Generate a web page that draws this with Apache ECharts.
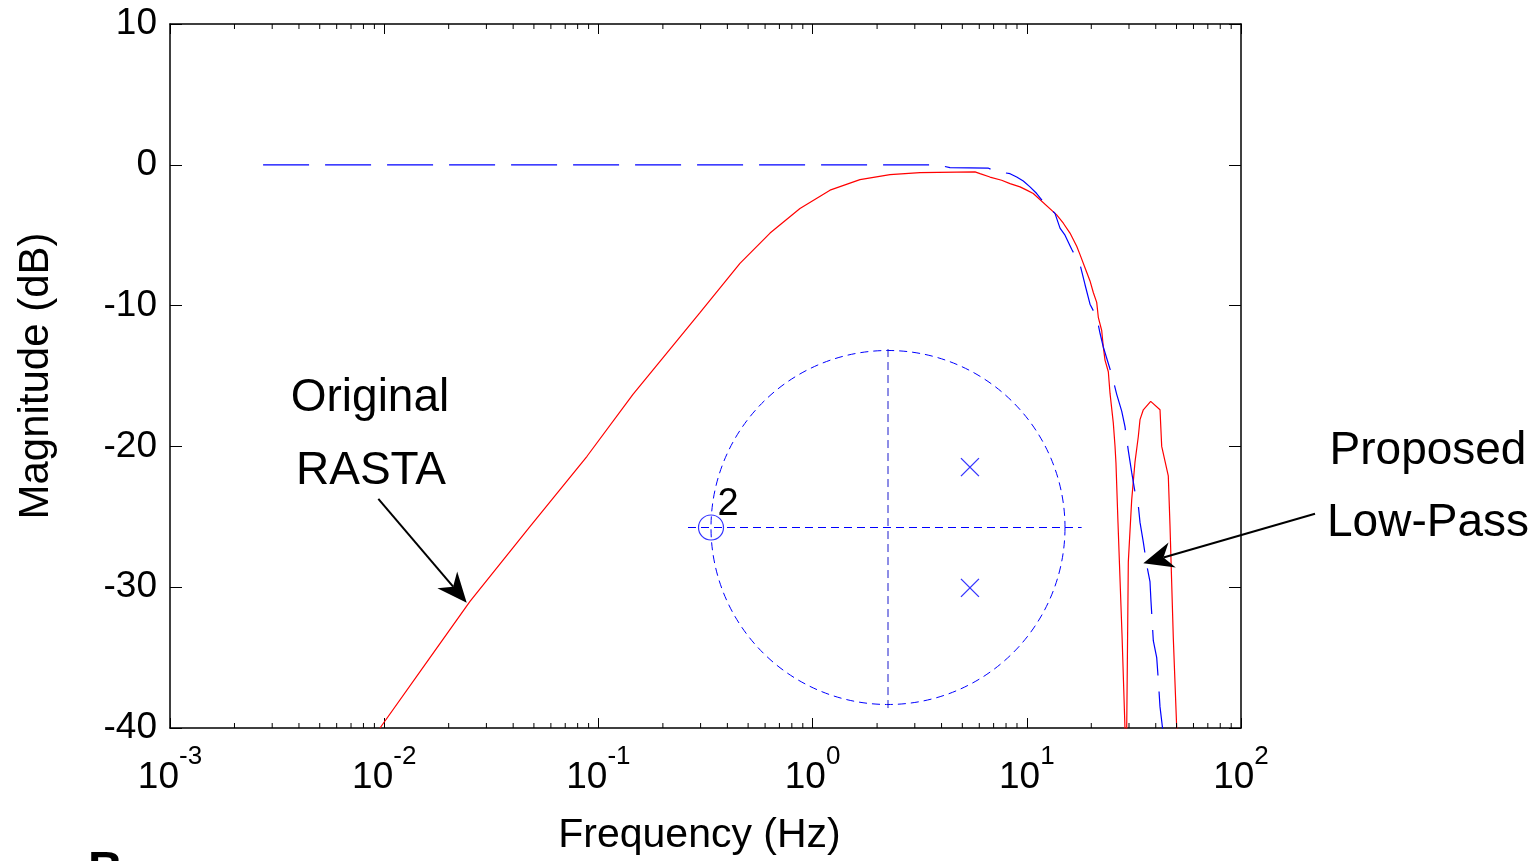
<!DOCTYPE html>
<html>
<head>
<meta charset="utf-8">
<script src="https://cdn.jsdelivr.net/npm/echarts@6/dist/echarts.min.js"></script>
<style>
html,body{margin:0;padding:0;background:#fff;overflow:hidden;}
#chart{width:1539px;height:861px;}
</style>
</head>
<body>
<div id="chart"></div>
<script>
// ---- axis ranges / tick labels ----
const xMin = 0.001, xMax = 100;
const yMin = -40, yMax = 10, yStep = 10;
const xDecadeExponents = [-3, -2, -1, 0, 1, 2];
const minorMultipliers = [2, 3, 4, 5, 6, 7, 8, 9];

// ---- curves: [frequency Hz, magnitude dB] ----
const originalRasta = [
  [0.00956,-40],[0.01636,-35.0],[0.02515,-31.0],[0.0479,-25.7],[0.0885,-20.7],
  [0.145,-16.3],[0.298,-10.5],[0.458,-7.0],[0.633,-4.85],[0.873,-3.1],
  [1.206,-1.8],[1.664,-1.05],[2.298,-0.7],[3.172,-0.55],[5.73,-0.5],
  [6.046,-0.63],[6.73,-0.87],[7.63,-1.10],[8.35,-1.34],[9.30,-1.57],
  [9.99,-1.80],[10.72,-2.04],[13.79,-3.56],[14.81,-4.15],[15.91,-4.85],
  [17.10,-5.79],[17.72,-6.38],[18.69,-7.31],[19.73,-8.25],[20.44,-9.07],
  [21.20,-9.77],[21.57,-10.83],[22.37,-11.77],[22.76,-12.94],[23.18,-13.87],
  [24.02,-14.70],[24.46,-16.22],[25.34,-18.33],[25.81,-19.97],[26.08,-21.2],
  [26.65,-25.4],[27.82,-33.3],[28.73,-40],[29.0,-60],[29.27,-40],
  [29.78,-28.2],[30.88,-23.8],[32.0,-21.1],[33.16,-19.3],[33.77,-18.1],
  [34.99,-17.4],[37.88,-16.8],[41.87,-17.4],[42.64,-20.0],[45.77,-22.1],
  [46.61,-25.6],[48.30,-33.6],[50.10,-40],[51,-60]
];
const proposedLowPass = [
  [0.00272,0],[3.81,0],[4.38,-0.2],[6.59,-0.23],[7.10,-0.45],[8.35,-0.63],
  [8.97,-0.87],[9.63,-1.15],[10.35,-1.57],[11.12,-2.04],[11.94,-2.62],
  [13.54,-3.45],[14.29,-4.5],[15.08,-5.0],[16.20,-6.0],[17.72,-7.08],
  [18.69,-8.5],[19.73,-9.9],[21.20,-10.83],[22.0,-12.0],[22.76,-12.94],
  [23.63,-13.76],[24.91,-14.9],[26.29,-16.3],[27.74,-17.5],[28.73,-18.6],
  [29.78,-20.3],[30.88,-21.85],[32.0,-23.25],[33.16,-24.2],[33.77,-25.4],
  [34.99,-26.8],[36.28,-28.4],[37.59,-29.6],[38.0,-31.0],[38.96,-33.8],
  [40.41,-35.0],[41.11,-36.6],[41.87,-38.5],[43.10,-40.1],[45,-45]
];

// ---- pole-zero inset (z-plane, unit circle) ----
const pzUnitCircle = [[0, 0, 1]];
const pzRealAxis = [[-1.13, 0], [1.094, 0]];
const pzImagAxis = [[0, -1.02], [0, 1.02]];
const pzZeros = [[-1, 0]];
const pzZeroMultiplicity = '2';
const pzPoles = [[0.463, 0.341], [0.463, -0.341]];

// ---- annotation arrows: [fromF, fromDb, toF, toDb] ----
const annotationArrows = [
  [0.00939, -23.72, 0.02428, -31.1],
  [221.6, -24.78, 34.99, -28.3]
];

const minorTicks = [];
xDecadeExponents.slice(0, -1).forEach(e => minorMultipliers.forEach(m => minorTicks.push([m * Math.pow(10, e), yMin])));

const FONT = 'Liberation Sans, Arial, Helvetica, sans-serif';
const BLUE = '#0000ff', RED = '#ff0000';

const chart = echarts.init(document.getElementById('chart'));

const axisLineStyle = { show: true, onZero: false, lineStyle: { color: '#000', width: 1.5 } };

const option = {
  animation: false,
  backgroundColor: '#fff',
  grid: [
    { left: 170, top: 24, width: 1071, height: 711, containLabel: false },
    { left: 675.6, top: 315.1, width: 424.8, height: 424.8, containLabel: false }
  ],
  xAxis: [
    {
      type: 'log', logBase: 10, min: xMin, max: xMax, gridIndex: 0, position: 'bottom',
      axisLine: axisLineStyle,
      axisTick: { show: true, inside: true, length: 10, lineStyle: { color: '#000', width: 1 } },
      splitLine: { show: false },
      axisLabel: {
        show: true, margin: 16, showMinLabel: true, showMaxLabel: true,
        formatter: v => '{b|10}{s|' + Math.round(Math.log10(v)) + '}',
        rich: {
          b: { fontSize: 37, lineHeight: 68, fontFamily: FONT, color: '#000' },
          s: { fontSize: 26, lineHeight: 26, verticalAlign: 'top', fontFamily: FONT, color: '#000' }
        }
      },
      name: 'Frequency (Hz)', nameLocation: 'middle', nameGap: 87,
      nameTextStyle: { fontSize: 41, fontFamily: FONT, color: '#000', padding: [0, 12, 0, 0] }
    },
    {
      type: 'log', logBase: 10, min: xMin, max: xMax, gridIndex: 0, position: 'top',
      axisLine: axisLineStyle,
      axisTick: { show: true, inside: true, length: 10, lineStyle: { color: '#000', width: 1 } },
      splitLine: { show: false }, axisLabel: { show: false }
    },
    { type: 'value', gridIndex: 1, min: -1.2, max: 1.2, show: false }
  ],
  yAxis: [
    {
      type: 'value', min: yMin, max: yMax, interval: yStep, gridIndex: 0, position: 'left',
      axisLine: axisLineStyle,
      axisTick: { show: true, inside: true, length: 12, lineStyle: { color: '#000', width: 1 } },
      splitLine: { show: false },
      axisLabel: { show: true, margin: 13, fontSize: 37, fontFamily: FONT, color: '#000' },
      name: 'Magnitude (dB)', nameLocation: 'middle', nameGap: 113, nameRotate: 90,
      nameTextStyle: { fontSize: 42, fontFamily: FONT, color: '#000' }
    },
    {
      type: 'value', min: yMin, max: yMax, interval: yStep, gridIndex: 0, position: 'right',
      axisLine: axisLineStyle,
      axisTick: { show: true, inside: true, length: 12, lineStyle: { color: '#000', width: 1 } },
      splitLine: { show: false }, axisLabel: { show: false }
    },
    { type: 'value', gridIndex: 1, min: -1.2, max: 1.2, show: false }
  ],
  series: [
    {
      name: 'Original RASTA', type: 'line', xAxisIndex: 0, yAxisIndex: 0,
      data: originalRasta, showSymbol: false, clip: true, z: 3,
      lineStyle: { color: RED, width: 1.2 }
    },
    {
      name: 'Proposed Low-Pass', type: 'line', xAxisIndex: 0, yAxisIndex: 0,
      data: proposedLowPass, showSymbol: false, clip: true, z: 4,
      lineStyle: { color: BLUE, width: 1.2, type: [46, 16] }
    },
    {
      name: 'minor ticks', type: 'custom', xAxisIndex: 0, yAxisIndex: 0,
      data: minorTicks, silent: true, z: 5,
      renderItem: (params, api) => {
        const f = api.value(0);
        const b = api.coord([f, yMin]);
        const t = api.coord([f, yMax]);
        return {
          type: 'group', children: [
            { type: 'line', shape: { x1: b[0], y1: b[1], x2: b[0], y2: b[1] - 5 }, style: { stroke: '#000', lineWidth: 1 } },
            { type: 'line', shape: { x1: t[0], y1: t[1], x2: t[0], y2: t[1] + 5 }, style: { stroke: '#000', lineWidth: 1 } }
          ]
        };
      }
    },
    {
      name: 'arrows', type: 'custom', xAxisIndex: 0, yAxisIndex: 0,
      data: annotationArrows, encode: { x: [0, 2], y: [1, 3] }, silent: true, z: 10, clip: false,
      renderItem: (params, api) => {
        const p1 = api.coord([api.value(0), api.value(1)]);
        const p2 = api.coord([api.value(2), api.value(3)]);
        const dx = p2[0] - p1[0], dy = p2[1] - p1[1];
        const len = Math.sqrt(dx * dx + dy * dy);
        const ux = dx / len, uy = dy / len;
        const nx = -uy, ny = ux;
        const L = 30, W = 13, N = 21;
        const bx = p2[0] - ux * L, by = p2[1] - uy * L;
        const notch = [p2[0] - ux * N, p2[1] - uy * N];
        return {
          type: 'group', children: [
            { type: 'line', shape: { x1: p1[0], y1: p1[1], x2: notch[0], y2: notch[1] }, style: { stroke: '#000', lineWidth: 2 } },
            { type: 'polygon', shape: { points: [p2, [bx + nx * W, by + ny * W], notch, [bx - nx * W, by - ny * W]] }, style: { fill: '#000' } }
          ]
        };
      }
    },
    {
      name: 'unit circle', type: 'custom', xAxisIndex: 2, yAxisIndex: 2,
      data: pzUnitCircle, silent: true, z: 2,
      renderItem: (params, api) => {
        const c = api.coord([api.value(0), api.value(1)]);
        const s = api.size([api.value(2), api.value(2)]);
        return { type: 'circle', shape: { cx: c[0], cy: c[1], r: s[0] }, style: { fill: 'none', stroke: BLUE, lineWidth: 1, lineDash: [8, 5] } };
      }
    },
    {
      name: 'real axis', type: 'line', xAxisIndex: 2, yAxisIndex: 2, data: pzRealAxis,
      showSymbol: false, silent: true, lineStyle: { color: BLUE, width: 1, type: [8, 5] }
    },
    {
      name: 'imag axis', type: 'line', xAxisIndex: 2, yAxisIndex: 2, data: pzImagAxis,
      showSymbol: false, silent: true, lineStyle: { color: '#1a1acc', width: 1, type: [8, 5] }
    },
    {
      name: 'zeros', type: 'scatter', xAxisIndex: 2, yAxisIndex: 2, data: pzZeros,
      symbol: 'circle', symbolSize: 25, silent: true,
      itemStyle: { color: 'rgba(0,0,0,0)', borderColor: BLUE, borderWidth: 1.2 },
      label: { show: true, formatter: pzZeroMultiplicity, position: 'inside', offset: [17, -23], fontSize: 38, fontFamily: FONT, color: '#000', opacity: 1, textBorderWidth: 0 }
    },
    {
      name: 'poles', type: 'scatter', xAxisIndex: 2, yAxisIndex: 2, data: pzPoles,
      symbol: 'path://M0,0L10,10M10,0L0,10', symbolSize: 18, silent: true,
      itemStyle: { color: 'rgba(0,0,0,0)', borderColor: BLUE, borderWidth: 1.3 }
    }
  ],
  graphic: [
    { type: 'text', x: 370, y: 398, style: { text: 'Original', fontSize: 46, fontFamily: FONT, fill: '#000', align: 'center', verticalAlign: 'middle' } },
    { type: 'text', x: 371, y: 471, style: { text: 'RASTA', fontSize: 46, fontFamily: FONT, fill: '#000', align: 'center', verticalAlign: 'middle' } },
    { type: 'text', x: 1428, y: 451, style: { text: 'Proposed', fontSize: 46, fontFamily: FONT, fill: '#000', align: 'center', verticalAlign: 'middle' } },
    { type: 'text', x: 1428, y: 523, style: { text: 'Low-Pass', fontSize: 46, fontFamily: FONT, fill: '#000', align: 'center', verticalAlign: 'middle' } },
    { type: 'text', x: 88, y: 848, style: { text: 'B', fontSize: 48, fontWeight: 'bold', fontFamily: FONT, fill: '#000', align: 'left', verticalAlign: 'top' } }
  ]
};
chart.setOption(option);
</script>
</body>
</html>
